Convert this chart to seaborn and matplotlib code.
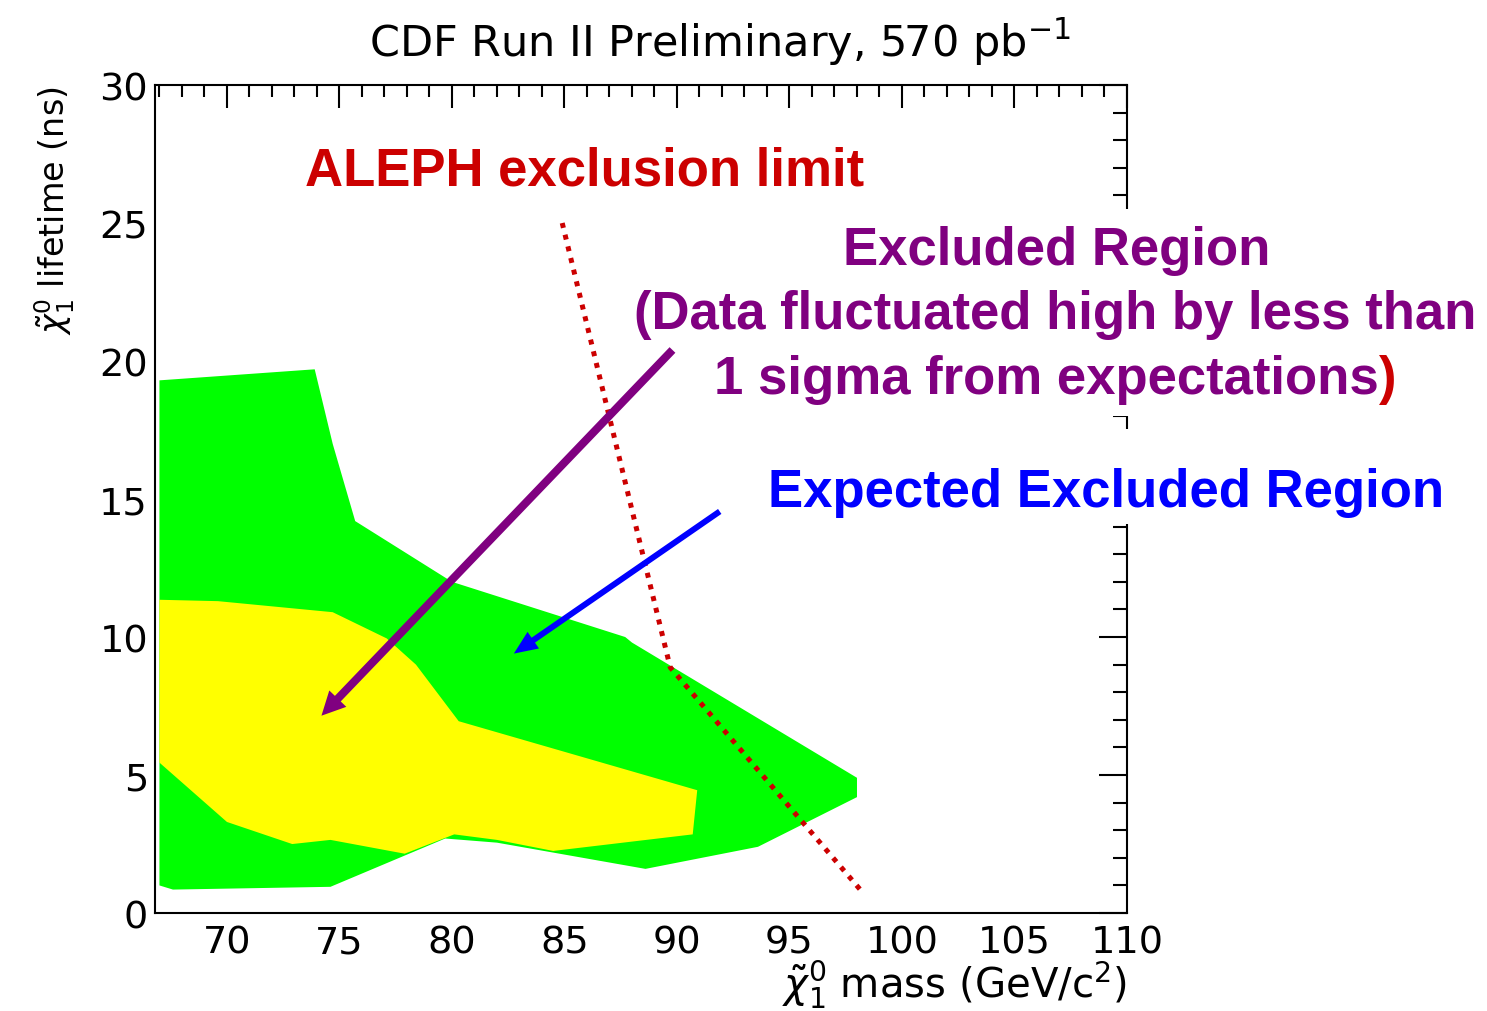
import matplotlib
matplotlib.use("Agg")
import matplotlib.pyplot as plt
import seaborn as sns
from matplotlib.patches import Rectangle
from matplotlib.ticker import MultipleLocator

# =====================
# DATA
# =====================
# expected excluded region (green)
green_mass = [67.0, 73.9, 74.7, 75.7, 80.0, 87.7, 88.0, 98.0, 98.0, 93.6, 88.6, 82.0, 79.7, 74.6, 67.6, 67.0]
green_life = [19.3, 19.7, 17.0, 14.2, 12.0, 10.0, 9.8, 4.9, 4.2, 2.4, 1.6, 2.55, 2.7, 0.95, 0.85, 1.0]

# observed excluded region (yellow)
yellow_mass = [67.0, 69.6, 74.7, 77.1, 78.4, 80.3, 90.9, 90.7, 84.5, 82.0, 80.1, 77.9, 74.6, 72.9, 70.0, 67.0]
yellow_life = [11.35, 11.3, 10.9, 9.95, 9.0, 6.95, 4.45, 2.85, 2.25, 2.65, 2.85, 2.15, 2.65, 2.5, 3.3, 5.45]

# ALEPH exclusion limit (dotted red)
aleph_mass = [84.9, 89.7, 98.3]
aleph_life = [25.0, 8.9, 0.7]

x_ticks = [70, 75, 80, 85, 90, 95, 100, 105, 110]
y_ticks = [0, 5, 10, 15, 20, 25, 30]

GREEN = "#00ff00"
YELLOW = "#ffff00"
PURPLE = "#800080"
BLUE = "#0000ff"
RED = "#cc0000"

# =====================
# STYLE
# =====================
sns.set_style("white")
plt.rcParams["font.family"] = "DejaVu Sans"
plt.rcParams["mathtext.fontset"] = "dejavusans"
plt.rcParams["text.color"] = "black"
plt.rcParams["axes.labelcolor"] = "black"
plt.rcParams["xtick.color"] = "black"
plt.rcParams["ytick.color"] = "black"

fig = plt.figure(figsize=(14.87, 10.12), dpi=100)
ax = fig.add_axes([0.1042, 0.0968, 0.6537, 0.8182])

# =====================
# REGIONS + LIMIT
# =====================
ax.fill(green_mass, green_life, color=GREEN, lw=0, zorder=1)
ax.fill(yellow_mass, yellow_life, color=YELLOW, lw=0, zorder=1.1)

sns.lineplot(x=aleph_mass, y=aleph_life, sort=False, ax=ax, color=RED,
             lw=3.6, linestyle=(0, (1, 1.4)), zorder=2)

ax.set_xlim(66.8, 110)
ax.set_ylim(0, 30)
ax.set_xticks(x_ticks)
ax.set_yticks(y_ticks)
ax.xaxis.set_minor_locator(MultipleLocator(1))
ax.yaxis.set_minor_locator(MultipleLocator(1))

for s in ax.spines.values():
    s.set_linewidth(1.5)
    s.set_color("black")

ax.tick_params(axis="both", which="both", direction="in", top=True, right=True,
               width=1.5, colors="black")
ax.tick_params(axis="x", which="major", length=16.5, pad=8, labelsize=27.5)
ax.tick_params(axis="x", which="minor", length=8.6)
ax.tick_params(axis="y", which="major", length=20, pad=5, labelsize=27.5)
ax.tick_params(axis="y", which="minor", length=10)

# axis titles, ROOT style (aligned to the end)
ax.set_xlabel(r"$\tilde{\chi}_1^0$ mass (GeV/c$^2$)", fontsize=29, loc="right")
ax.xaxis.set_label_coords(1.0, -0.054)
ax.set_ylabel(r"$\tilde{\chi}_1^0$ lifetime (ns)", fontsize=24, loc="top")
ax.yaxis.set_label_coords(-0.08, 1.0)

fig.text(720 / 1487, 1 - 42 / 1012, r"CDF Run II Preliminary, 570 pb$^{-1}$",
         ha="center", va="center", fontsize=31)

# =====================
# ANNOTATIONS
# =====================
# white panes behind the text labels (they hide the right frame)
ax.add_patch(Rectangle((87.6, 18.0), 38.5, 7.5, color="white", lw=0,
                       clip_on=False, zorder=4))
ax.add_patch(Rectangle((93.2, 14.1), 32.5, 3.45, color="white", lw=0,
                       clip_on=False, zorder=4))

bold = dict(family="Liberation Sans", weight="bold", fontsize=38, zorder=5)

ax.text(85.9, 26.38, "ALEPH exclusion limit", color=RED, ha="center", va="baseline", **bold)
ax.text(106.88, 23.51, "Excluded Region", color=PURPLE, ha="center", va="baseline", **bold)
ax.text(106.83, 21.18, "(Data fluctuated high by less than", color=PURPLE,
        ha="center", va="baseline", **bold)
t3 = ax.text(121.2, 18.84, "1 sigma from expectations", color=PURPLE,
             ha="right", va="baseline", **bold)
ax.annotate(")", xy=(1, 0), xycoords=t3, ha="left", va="bottom", color=RED, **bold)
ax.text(109.05, 14.75, "Expected Excluded Region", color=BLUE, ha="center",
        va="baseline", **bold)

ax.annotate("", xy=(74.2, 7.15), xytext=(89.8, 20.4), zorder=6,
            arrowprops=dict(arrowstyle="simple,head_length=17,head_width=17,tail_width=5.8",
                            mutation_scale=1, fc=PURPLE, ec="none",
                            shrinkA=0, shrinkB=0))
ax.annotate("", xy=(82.75, 9.4), xytext=(91.9, 14.55), zorder=6,
            arrowprops=dict(arrowstyle="simple,head_length=17,head_width=14.5,tail_width=4.3",
                            mutation_scale=1, fc=BLUE, ec="none",
                            shrinkA=0, shrinkB=0))

fig.savefig("out.png", dpi=100)
